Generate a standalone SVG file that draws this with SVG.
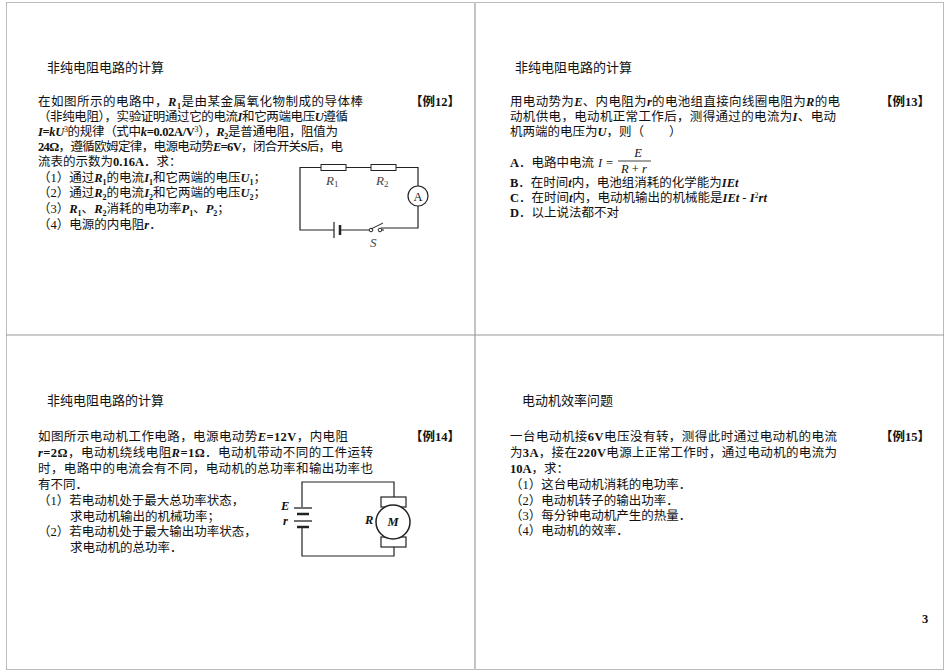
<svg xmlns="http://www.w3.org/2000/svg" width="950" height="672" viewBox="0 0 950 672">
<style>
text{font-family:"Liberation Serif","Noto Sans CJK SC",serif;font-size:12.5px;fill:#111}
.t{font-size:13px}
.b{font-weight:bold}
.i{font-style:italic;font-weight:bold}
.w{fill:none;stroke:#222;stroke-width:1.2}
.c{font-family:"Liberation Serif",serif;font-style:italic;font-size:13px;fill:#444}
</style>
<rect x="0" y="0" width="950" height="672" fill="#fff"/>
<g id="frame" fill="none">
<rect x="6.5" y="2.5" width="937" height="667" stroke="#bbb" stroke-width="1"/>
<line x1="475" y1="2" x2="475" y2="670" stroke="#c4c4c4" stroke-width="2"/>
<line x1="6" y1="335" x2="944" y2="335" stroke="#999" stroke-width="1"/>
</g>
<g id="panel12">
<text class="t" x="47" y="72">非纯电阻电路的计算</text>
<text x="410" y="106" class="b" font-size="13">【例12】</text>
<text x="38" y="106" textLength="325">在如图所示的电路中，<tspan class="i">R</tspan><tspan class="b" font-size="8" dy="3">1</tspan><tspan dy="-3">是由某金属氧化物制成的导体棒</tspan></text>
<text x="38" y="121" textLength="310">（非纯电阻），实验证明通过它的电流<tspan class="i">I</tspan>和它两端电压<tspan class="i">U</tspan>遵循</text>
<text x="38" y="136" textLength="300"><tspan class="i">I</tspan><tspan class="b">=</tspan><tspan class="i">kU</tspan><tspan font-size="8" dy="-4">3</tspan><tspan dy="4">的规律（式中</tspan><tspan class="i">k</tspan><tspan class="b">=0.02A/V</tspan><tspan font-size="8" dy="-4">3</tspan><tspan dy="4">），</tspan><tspan class="i">R</tspan><tspan class="b" font-size="8" dy="3">2</tspan><tspan dy="-3">是普通电阻，阻值为</tspan></text>
<text x="38" y="151" textLength="305"><tspan class="b">24Ω</tspan>，遵循欧姆定律，电源电动势<tspan class="i">E</tspan><tspan class="b">=6V</tspan>，闭合开关<tspan class="b">S</tspan>后，电</text>
<text x="38" y="166">流表的示数为<tspan class="b">0.16A</tspan>．求：</text>
<text x="38" y="182">（1）通过<tspan class="i">R</tspan><tspan class="b" font-size="8" dy="3">1</tspan><tspan dy="-3">的电流</tspan><tspan class="i">I</tspan><tspan class="b" font-size="8" dy="3">1</tspan><tspan dy="-3">和它两端的电压</tspan><tspan class="i">U</tspan><tspan class="b" font-size="8" dy="3">1</tspan><tspan dy="-3">；</tspan></text>
<text x="38" y="197">（2）通过<tspan class="i">R</tspan><tspan class="b" font-size="8" dy="3">2</tspan><tspan dy="-3">的电流</tspan><tspan class="i">I</tspan><tspan class="b" font-size="8" dy="3">2</tspan><tspan dy="-3">和它两端的电压</tspan><tspan class="i">U</tspan><tspan class="b" font-size="8" dy="3">2</tspan><tspan dy="-3">；</tspan></text>
<text x="38" y="213">（3）<tspan class="i">R</tspan><tspan class="b" font-size="8" dy="3">1</tspan><tspan dy="-3">、</tspan><tspan class="i">R</tspan><tspan class="b" font-size="8" dy="3">2</tspan><tspan dy="-3">消耗的电功率</tspan><tspan class="i">P</tspan><tspan class="b" font-size="8" dy="3">1</tspan><tspan dy="-3">、</tspan><tspan class="i">P</tspan><tspan class="b" font-size="8" dy="3">2</tspan><tspan dy="-3">；</tspan></text>
<text x="38" y="229">（4）电源的内电阻<tspan class="i">r</tspan>．</text>
</g>
<g id="circuit12">
<path class="w" d="M321 167.5H300V230H334M340 230H369M381 228L418 228V206M418 186V167.5H396M371 167.5H346"/>
<rect x="321" y="164.5" width="25" height="6" fill="#fff" stroke="#222"/>
<rect x="371" y="164.5" width="25" height="6" fill="#fff" stroke="#222"/>
<line x1="334" y1="222" x2="334" y2="238" stroke="#222" stroke-width="1.2"/>
<line x1="340" y1="225" x2="340" y2="235" stroke="#222" stroke-width="2.5"/>
<circle cx="371" cy="230" r="1.8" fill="#fff" stroke="#222"/>
<circle cx="380" cy="230" r="1.8" fill="#fff" stroke="#222"/>
<line x1="371" y1="229" x2="383" y2="223" stroke="#222"/>
<line x1="382" y1="230" x2="384" y2="230" stroke="#222"/>
<circle cx="418" cy="196" r="10" fill="#fff" stroke="#222" stroke-width="1.2"/>
<text x="418" y="201" text-anchor="middle" font-family="Liberation Serif" font-size="14">A</text>
<text class="c" x="326" y="185">R<tspan font-size="9" font-style="normal" dy="2">1</tspan></text>
<text class="c" x="376" y="185">R<tspan font-size="9" font-style="normal" dy="2">2</tspan></text>
<text class="c" x="370" y="247">S</text>
</g>
<g id="panel13">
<text class="t" x="515" y="72">非纯电阻电路的计算</text>
<text x="880" y="106" class="b" font-size="13">【例13】</text>
<text x="510" y="106" textLength="330">用电动势为<tspan class="i">E</tspan>、内电阻为<tspan class="i">r</tspan>的电池组直接向线圈电阻为<tspan class="i">R</tspan>的电</text>
<text x="510" y="121" textLength="326">动机供电，电动机正常工作后，测得通过的电流为<tspan class="i">I</tspan>、电动</text>
<text x="510" y="136">机两端的电压为<tspan class="i">U</tspan>，则（　　）</text>
<text x="510" y="167"><tspan class="b">A</tspan>．电路中电流</text>
<text x="598" y="167" font-style="italic" font-size="11">I</text>
<text x="606" y="167" font-size="11">=</text>
<text x="638" y="157" font-style="italic" font-size="11" text-anchor="middle">E</text>
<line x1="618" y1="161" x2="651" y2="161" stroke="#111" stroke-width="0.8"/>
<text x="634" y="173" font-size="11" text-anchor="middle"><tspan font-style="italic">R</tspan> + <tspan font-style="italic">r</tspan></text>
<text x="510" y="187"><tspan class="b">B</tspan>．在时间<tspan class="i">t</tspan>内，电池组消耗的化学能为<tspan class="i">IEt</tspan></text>
<text x="510" y="202"><tspan class="b">C</tspan>．在时间<tspan class="i">t</tspan>内，电动机输出的机械能是<tspan class="i">IEt</tspan> - <tspan class="i">I</tspan><tspan font-size="8" dy="-4">2</tspan><tspan class="i" dy="4">rt</tspan></text>
<text x="510" y="217"><tspan class="b">D</tspan>．以上说法都不对</text>
</g>
<g id="panel14">
<text class="t" x="47" y="405">非纯电阻电路的计算</text>
<text x="410" y="441" class="b" font-size="13">【例14】</text>
<text x="38" y="441" textLength="310">如图所示电动机工作电路，电源电动势<tspan class="i">E</tspan><tspan class="b">=12V</tspan>，内电阻</text>
<text x="38" y="457" textLength="335"><tspan class="i">r</tspan><tspan class="b">=2Ω</tspan>，电动机绕线电阻<tspan class="i">R</tspan><tspan class="b">=1Ω</tspan>．电动机带动不同的工件运转</text>
<text x="38" y="473" textLength="335">时，电路中的电流会有不同，电动机的总功率和输出功率也</text>
<text x="38" y="489">有不同．</text>
<text x="38" y="505">（1）若电动机处于最大总功率状态，</text>
<text x="70" y="521">求电动机输出的机械功率；</text>
<text x="38" y="536">（2）若电动机处于最大输出功率状态，</text>
<text x="70" y="552">求电动机的总功率．</text>
</g>
<g id="circuit14">
<path class="w" d="M302 507V482H394V497M394 547V556H302V528"/>
<line x1="294" y1="508" x2="312" y2="508" stroke="#222" stroke-width="1.3"/>
<line x1="297" y1="514" x2="309" y2="514" stroke="#222" stroke-width="2.5"/>
<line x1="294" y1="521" x2="312" y2="521" stroke="#222" stroke-width="1.3"/>
<line x1="297" y1="527" x2="309" y2="527" stroke="#222" stroke-width="2.5"/>
<rect x="381" y="497" width="25" height="10" fill="#fff" stroke="#222" stroke-width="1.2"/>
<rect x="381" y="537" width="25" height="10" fill="#fff" stroke="#222" stroke-width="1.2"/>
<circle cx="393" cy="522" r="17" fill="#fff" stroke="#222" stroke-width="1.5"/>
<text x="393" y="526" text-anchor="middle" class="i" font-size="11">M</text>
<text x="365" y="524" class="i" font-size="10">R</text>
<text x="281" y="510" class="i" font-size="10">E</text>
<text x="283" y="525" class="i" font-size="10">r</text>
</g>
<g id="panel15">
<text class="t" x="522" y="405">电动机效率问题</text>
<text x="880" y="441" class="b" font-size="13">【例15】</text>
<text x="510" y="441" textLength="327">一台电动机接<tspan class="b">6V</tspan>电压没有转，测得此时通过电动机的电流</text>
<text x="510" y="457" textLength="327">为<tspan class="b">3A</tspan>，接在<tspan class="b">220V</tspan>电源上正常工作时，通过电动机的电流为</text>
<text x="510" y="473"><tspan class="b">10A</tspan>，求：</text>
<text x="510" y="489">（1）这台电动机消耗的电功率．</text>
<text x="510" y="505">（2）电动机转子的输出功率．</text>
<text x="510" y="520">（3）每分钟电动机产生的热量．</text>
<text x="510" y="535">（4）电动机的效率．</text>
</g>
<text x="922" y="623" class="b" font-size="13">3</text>
</svg>
